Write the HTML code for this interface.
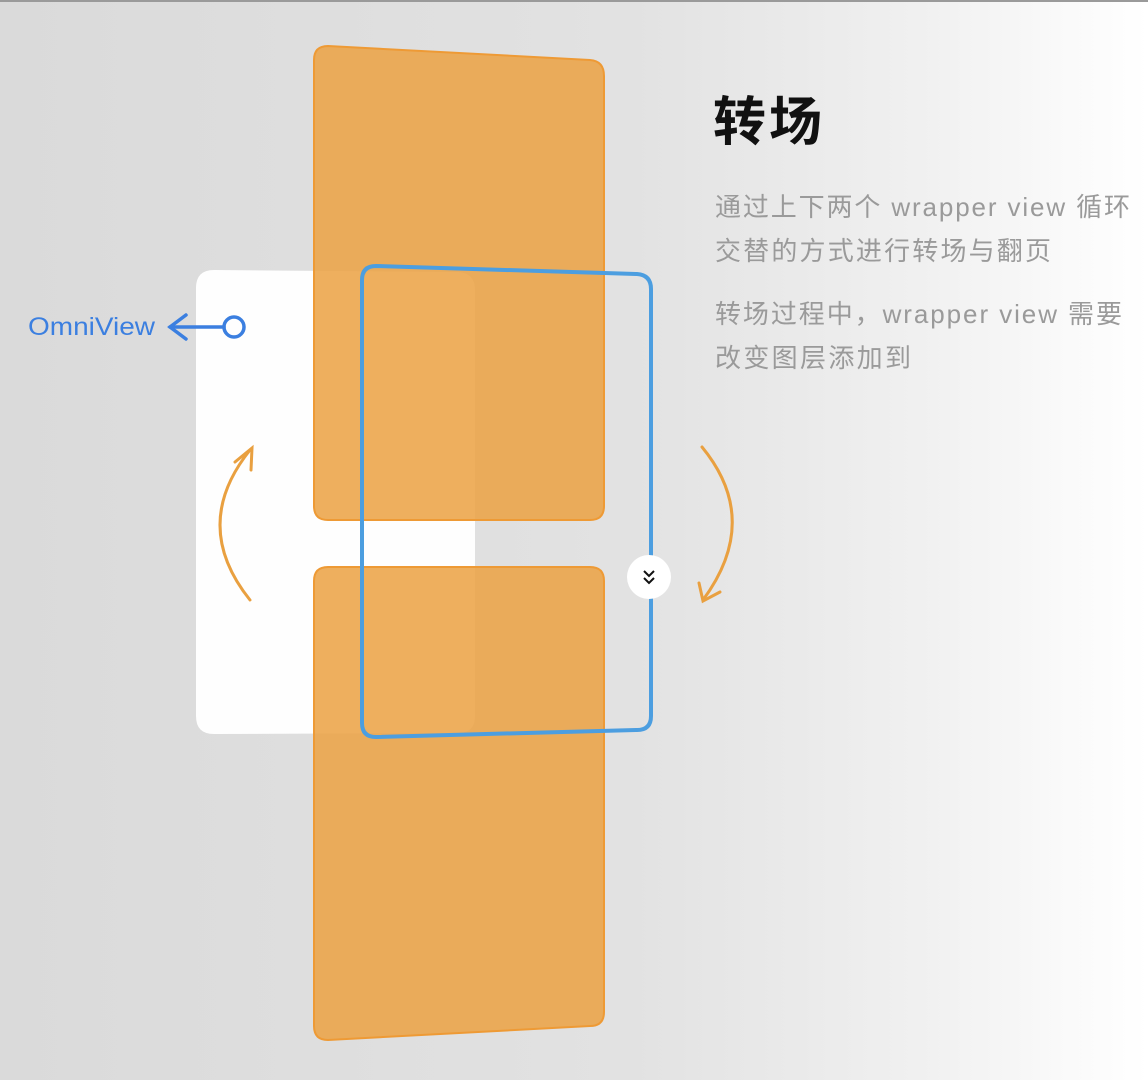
<!DOCTYPE html>
<html><head><meta charset="utf-8"><style>
body{margin:0;width:1148px;height:1080px;overflow:hidden;font-family:"Liberation Sans","Noto Sans CJK SC",sans-serif;}
</style></head><body>
<svg width="1148" height="1080" viewBox="0 0 1148 1080" xmlns="http://www.w3.org/2000/svg">
<defs>
<linearGradient id="bg" x1="0" x2="1" y1="0" y2="0">
<stop offset="0" stop-color="#dadada"/><stop offset="0.55" stop-color="#e2e2e2"/><stop offset="0.8" stop-color="#f0f0f0"/><stop offset="1" stop-color="#ffffff"/>
</linearGradient>
</defs>
<rect width="1148" height="1080" fill="url(#bg)"/>
<rect width="1148" height="2" fill="#9a9a9a"/>
<path d="M214,270 L458,272 Q475,273 475,290 L475,716 Q475,733 458,733 L214,734 Q196,734 196,716 L196,288 Q196,270 214,270Z" fill="#fefefe"/>
<g fill="#eba244" fill-opacity="0.86" stroke="#ee9a35" stroke-width="2">
<path d="M328,46 L590,60 Q604,61 604,76 L604,506 Q604,520 590,520 L328,520 Q314,520 314,506 L314,60 Q314,46 328,46Z"/>
<path d="M328,567 L590,567 Q604,567 604,581 L604,1012 Q604,1026 590,1026 L328,1040 Q314,1040 314,1026 L314,581 Q314,567 328,567Z"/>
</g>
<path d="M376,266 L637,274 Q651,275 651,289 L651,716 Q651,730 637,730 L376,737 Q362,737 362,723 L362,280 Q362,266 376,266Z" fill="none" stroke="#4c9ee0" stroke-width="4"/>
<circle cx="649" cy="577" r="22" fill="#ffffff"/>
<path d="M644,571 l5,5 l5,-5 M644,578 l5,5 l5,-5" fill="none" stroke="#111" stroke-width="2"/>
<g fill="none" stroke="#e9a040" stroke-width="3" stroke-linecap="round">
<path d="M250,600 Q190,525 250,450"/>
<path d="M235,462 L252,448 L251,470"/>
<path d="M702,447 Q762,520 703,600"/>
<path d="M699,583 L703,601 L720,592"/>
</g>
<text x="28" y="335" font-size="25" fill="#3b7fe0" textLength="127" lengthAdjust="spacingAndGlyphs" font-family="Liberation Sans, sans-serif">OmniView</text>
<g fill="none" stroke="#3b7fe0" stroke-width="3.5" stroke-linecap="round">
<line x1="170" y1="327" x2="224" y2="327"/>
<path d="M186,315 L170,327 L186,339"/>
<circle cx="234" cy="327" r="10"/>
</g>
<text x="713" y="140" font-size="53" font-weight="bold" fill="#111" textLength="109">转场</text>
<g font-size="26" fill="#9a9a9a">
<text x="715" y="216" textLength="415">通过上下两个 wrapper view 循环</text>
<text x="715" y="260" textLength="336">交替的方式进行转场与翻页</text>
<text x="715" y="323" textLength="407">转场过程中，wrapper view 需要</text>
<text x="715" y="367" textLength="196">改变图层添加到</text>
</g>
</svg>
</body></html>
